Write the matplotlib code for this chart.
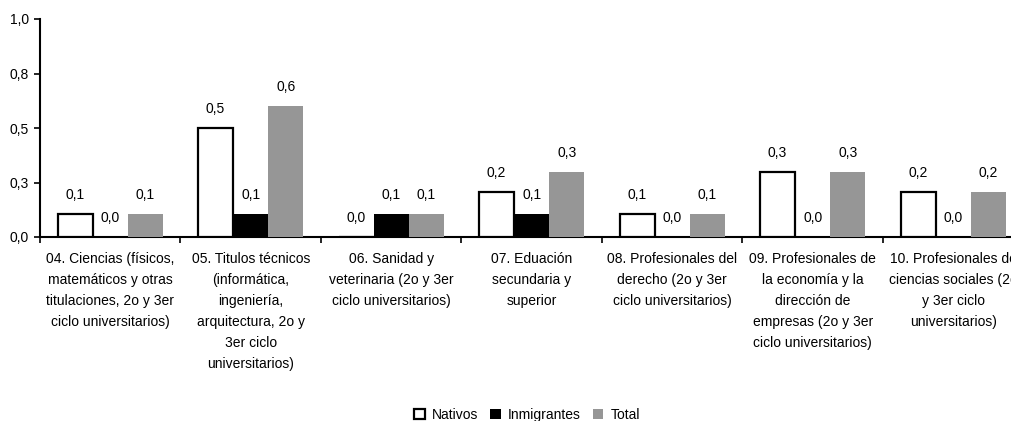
import matplotlib
matplotlib.use("Agg")
import matplotlib.pyplot as plt
import numpy as np
from matplotlib.patches import Patch

plt.rcParams['font.family'] = ['Liberation Sans', 'DejaVu Sans']

categories = [
    "04. Ciencias (físicos,\nmatemáticos y otras\ntitulaciones, 2o y 3er\nciclo universitarios)",
    "05. Titulos técnicos\n(informática,\ningeniería,\narquitectura, 2o y\n3er ciclo\nuniversitarios)",
    "06. Sanidad y\nveterinaria (2o y 3er\nciclo universitarios)",
    "07. Eduación\nsecundaria y\nsuperior",
    "08. Profesionales del\nderecho (2o y 3er\nciclo universitarios)",
    "09. Profesionales de\nla economía y la\ndirección de\nempresas (2o y 3er\nciclo universitarios)",
    "10. Profesionales de\nciencias sociales (2o\ny 3er ciclo\nuniversitarios)",
]
nativos = [0.105, 0.50, 0.0, 0.205, 0.105, 0.30, 0.205]
inmigrantes = [0.0, 0.105, 0.105, 0.105, 0.0, 0.0, 0.0]
total = [0.105, 0.60, 0.105, 0.30, 0.105, 0.30, 0.205]
series_names = ["Nativos", "Inmigrantes", "Total"]
yticks = [0.0, 0.25, 0.5, 0.75, 1.0]
ytick_labels = ["0,0", "0,3", "0,5", "0,8", "1,0"]

W, H = 1011, 421
fig = plt.figure(figsize=(W / 100, H / 100), dpi=100)
ax = fig.add_axes([40 / W, (H - 237) / H, (1023.5 - 40) / W, (237 - 19) / H])

x = np.arange(len(categories))
bw = 0.25
styles = [
    dict(facecolor="white", edgecolor="black", linewidth=1.6),
    dict(facecolor="black", edgecolor="black", linewidth=0),
    dict(facecolor="#969696", edgecolor="#969696", linewidth=0),
]
for k, (vals, st) in enumerate(zip([nativos, inmigrantes, total], styles)):
    pos = x + (k - 1) * bw
    ax.bar(pos, vals, width=bw, zorder=3, **st)
    for px, v in zip(pos, vals):
        lab = ("%.1f" % v).replace(".", ",")
        ax.annotate(lab, (px, v), xytext=(0, 12), textcoords="offset pixels",
                    ha="center", va="bottom", fontsize=10)

ax.set_xlim(-0.5, len(categories) - 0.5)
ax.set_ylim(0, 1.0)
ax.set_yticks(yticks)
ax.set_yticklabels(ytick_labels, fontsize=10)
ax.set_xticks(x)
ax.set_xticklabels(categories, fontsize=10, linespacing=1.63, va="top")
ax.set_xticks(np.arange(len(categories) + 1) - 0.5, minor=True)
ax.tick_params(axis="x", which="major", length=0, pad=11)
ax.tick_params(axis="x", which="minor", length=4, width=1.2, direction="out")
ax.tick_params(axis="y", length=4, width=1.2, direction="out", pad=4)
for s in ["top", "right"]:
    ax.spines[s].set_visible(False)
for s in ["left", "bottom"]:
    ax.spines[s].set_linewidth(1.5)

handles = [Patch(**styles[0]), Patch(**styles[1]), Patch(**styles[2])]
fig.legend(handles, series_names, loc="center", bbox_to_anchor=(527 / W, 1 - 415 / H),
           ncol=3, frameon=False, fontsize=10, handlelength=0.75, handleheight=0.75,
           handletextpad=0.5, columnspacing=0.9)

fig.savefig("out.png", dpi=100)
